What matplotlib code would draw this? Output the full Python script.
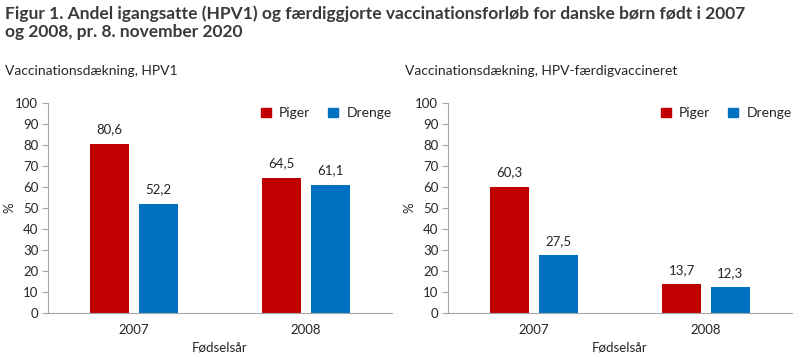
import numpy as np
import matplotlib.pyplot as plt
from matplotlib.patches import Patch

plt.rcParams['font.family'] = ['Lato', 'DejaVu Sans']

years = ["2007", "2008"]
hpv1_piger = [80.6, 64.5]
hpv1_drenge = [52.2, 61.1]
faerdig_piger = [60.3, 13.7]
faerdig_drenge = [27.5, 12.3]

red = "#C00000"
blue = "#0070C0"
txt = "#262626"
grey = "#A6A6A6"

fig = plt.figure(figsize=(8, 3.57), dpi=100)
fig.text(0.006, 0.985, "Figur 1. Andel igangsatte (HPV1) og færdiggjorte vaccinationsforløb for danske børn født i 2007\nog 2008, pr. 8. november 2020",
         ha="left", va="top", fontsize=12.5, fontweight="bold", color="#3a3a3a", linespacing=1.15)

panels = [
    (0.06, "Vaccinationsdækning, HPV1", hpv1_piger, hpv1_drenge),
    (0.56, "Vaccinationsdækning, HPV-færdigvaccineret", faerdig_piger, faerdig_drenge),
]

x = np.arange(len(years))
w = 0.226
off = 0.142
for left, subtitle, piger, drenge in panels:
    ax = fig.add_axes([left, 0.123, 0.43, 0.588])
    b1 = ax.bar(x - off, piger, w, color=red)
    b2 = ax.bar(x + off, drenge, w, color=blue)
    for bars, vals in ((b1, piger), (b2, drenge)):
        for b, v in zip(bars, vals):
            ax.text(b.get_x() + b.get_width() / 2, v + 4, f"{v:.1f}".replace(".", ","),
                    ha="center", va="bottom", fontsize=9.5, color=txt)
    ax.set_xlim(-0.5, 1.5)
    ax.set_ylim(0, 100)
    ax.set_yticks(range(0, 101, 10))
    ax.set_xticks(x)
    ax.set_xticklabels(years)
    ax.tick_params(axis="x", length=0, pad=8, labelsize=9.5, colors=txt)
    ax.tick_params(axis="y", length=4, width=0.8, color=grey, labelsize=9.5, colors=txt, pad=3)
    for s in ("top", "right"):
        ax.spines[s].set_visible(False)
    for s in ("left", "bottom"):
        ax.spines[s].set_color(grey)
        ax.spines[s].set_linewidth(0.8)
    ax.set_ylabel("%", fontsize=9.5, color=txt)
    ax.yaxis.set_label_coords(-0.095, 0.5)
    ax.set_xlabel("Fødselsår", fontsize=9.5, color=txt, labelpad=4)
    ax.legend(handles=[Patch(color=red, label="Piger"), Patch(color=blue, label="Drenge")],
              loc="upper right", bbox_to_anchor=(1.035, 1.04), ncol=2, frameon=False,
              fontsize=10, handlelength=0.7, handleheight=0.7, handletextpad=0.6,
              columnspacing=1.3, labelcolor=txt)
    fig.text(left - 0.054, 0.785, subtitle, ha="left", va="bottom", fontsize=10, color=txt)

fig.savefig("out.png", dpi=100)
